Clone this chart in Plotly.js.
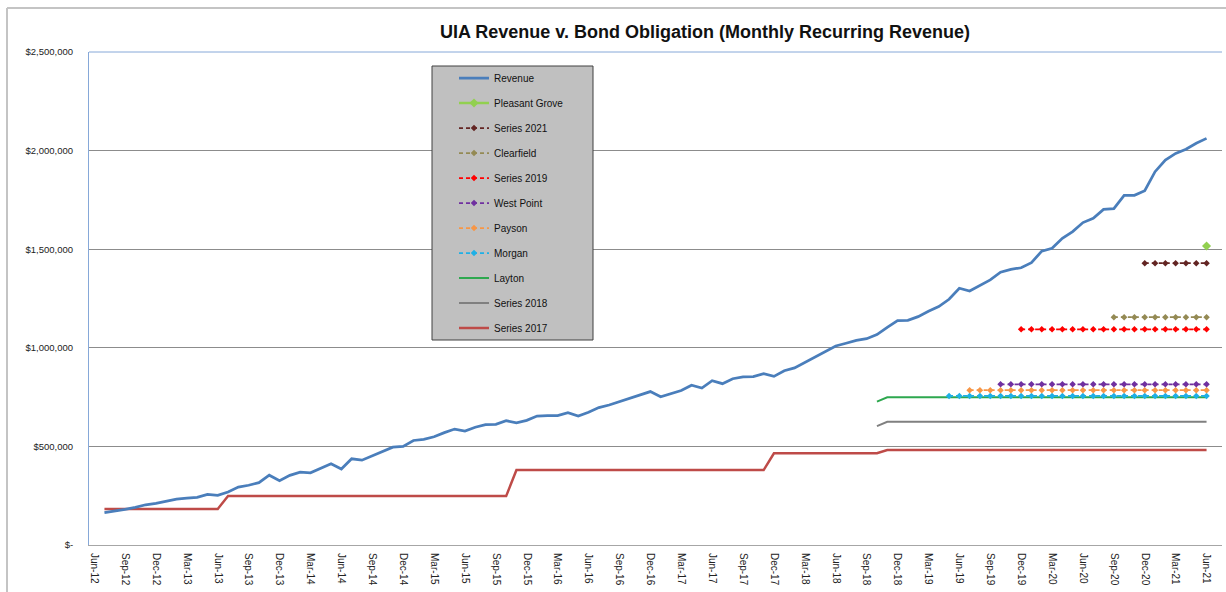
<!DOCTYPE html>
<html>
<head>
<meta charset="utf-8">
<script src="https://cdn.plot.ly/plotly-3.0.1.min.js"></script>
<style>html,body{margin:0;padding:0;background:#fff;}#chart{width:1226px;height:592px;}</style>
</head>
<body>
<div id="chart"></div>
<script>
// Month categories (Jun-12 .. Jun-21)
const months = [
"Jun-12","Jul-12","Aug-12","Sep-12","Oct-12","Nov-12","Dec-12",
"Jan-13","Feb-13","Mar-13","Apr-13","May-13","Jun-13","Jul-13","Aug-13","Sep-13","Oct-13","Nov-13","Dec-13",
"Jan-14","Feb-14","Mar-14","Apr-14","May-14","Jun-14","Jul-14","Aug-14","Sep-14","Oct-14","Nov-14","Dec-14",
"Jan-15","Feb-15","Mar-15","Apr-15","May-15","Jun-15","Jul-15","Aug-15","Sep-15","Oct-15","Nov-15","Dec-15",
"Jan-16","Feb-16","Mar-16","Apr-16","May-16","Jun-16","Jul-16","Aug-16","Sep-16","Oct-16","Nov-16","Dec-16",
"Jan-17","Feb-17","Mar-17","Apr-17","May-17","Jun-17","Jul-17","Aug-17","Sep-17","Oct-17","Nov-17","Dec-17",
"Jan-18","Feb-18","Mar-18","Apr-18","May-18","Jun-18","Jul-18","Aug-18","Sep-18","Oct-18","Nov-18","Dec-18",
"Jan-19","Feb-19","Mar-19","Apr-19","May-19","Jun-19","Jul-19","Aug-19","Sep-19","Oct-19","Nov-19","Dec-19",
"Jan-20","Feb-20","Mar-20","Apr-20","May-20","Jun-20","Jul-20","Aug-20","Sep-20","Oct-20","Nov-20","Dec-20",
"Jan-21","Feb-21","Mar-21","Apr-21","May-21","Jun-21"
];
const xTickLabels = ["Jun-12","Sep-12","Dec-12","Mar-13","Jun-13","Sep-13","Dec-13","Mar-14","Jun-14","Sep-14","Dec-14",
"Mar-15","Jun-15","Sep-15","Dec-15","Mar-16","Jun-16","Sep-16","Dec-16","Mar-17","Jun-17","Sep-17","Dec-17",
"Mar-18","Jun-18","Sep-18","Dec-18","Mar-19","Jun-19","Sep-19","Dec-19","Mar-20","Jun-20","Sep-20","Dec-20","Mar-21","Jun-21"];
const yTickValues = [0, 500000, 1000000, 1500000, 2000000, 2500000];
const yTickLabels = ["$-", "$500,000", "$1,000,000", "$1,500,000", "$2,000,000", "$2,500,000"];

// Revenue, Jul-12 .. Jun-21
const revenue = [
164000,171000,181000,191000,204000,211000,223000,233000,238000,242000,257000,252000,
269000,294000,303000,316000,354000,326000,353000,369000,366000,388000,412000,385000,
437000,430000,453000,472000,496000,500000,530000,536000,549000,570000,588000,578000,
597000,610000,612000,630000,620000,632000,654000,656000,656000,671000,654000,673000,
697000,710000,727000,747000,764000,778000,752000,767000,783000,810000,796000,833000,
818000,843000,852000,854000,869000,855000,884000,898000,925000,955000,979000,1009000,
1023000,1038000,1046000,1067000,1104000,1138000,1139000,1158000,1185000,1209000,1246000,1302000,
1288000,1318000,1344000,1383000,1398000,1406000,1432000,1490000,1505000,1555000,1589000,1635000,
1657000,1702000,1706000,1773000,1773000,1797000,1893000,1952000,1986000,2007000,2037000,2062000
];
// Series 2017, Jul-12 .. Jun-21
const series2017 = [
183000,183000,183000,183000,183000,183000,183000,183000,183000,183000,183000,183000,
248000,248000,248000,248000,248000,248000,248000,248000,248000,248000,248000,248000,
248000,248000,248000,248000,248000,248000,248000,248000,248000,248000,248000,248000,
248000,248000,248000,248000,
380000,380000,380000,380000,380000,380000,380000,380000,380000,380000,380000,380000,
380000,380000,380000,380000,380000,380000,380000,380000,380000,380000,380000,380000,380000,
465000,465000,465000,465000,465000,465000,465000,465000,465000,465000,465000,
482000,482000,482000,482000,482000,482000,482000,482000,482000,482000,482000,482000,
482000,482000,482000,482000,482000,482000,482000,482000,482000,482000,482000,482000,
482000,482000,482000,482000,482000,482000,482000,482000
];
// Oct-18 .. Jun-21
const series2018 = [603000,
625000,625000,625000,625000,625000,625000,625000,625000,625000,625000,625000,625000,625000,625000,625000,625000,
625000,625000,625000,625000,625000,625000,625000,625000,625000,625000,625000,625000,625000,625000,625000,625000];
const layton = [727000,
749000,749000,749000,749000,749000,749000,749000,749000,749000,749000,749000,749000,749000,749000,749000,749000,
749000,749000,749000,749000,749000,749000,749000,749000,749000,749000,749000,749000,749000,749000,749000,749000];
// May-19 .. Jun-21
const morgan = [756000,756000,756000,756000,756000,756000,756000,756000,756000,756000,756000,756000,756000,
756000,756000,756000,756000,756000,756000,756000,756000,756000,756000,756000,756000,756000];
// Jul-19 .. Jun-21
const payson = [785000,785000,785000,785000,785000,785000,785000,785000,785000,785000,785000,785000,
785000,785000,785000,785000,785000,785000,785000,785000,785000,785000,785000,785000];
// Oct-19 .. Jun-21
const westPoint = [815000,815000,815000,815000,815000,815000,815000,815000,815000,815000,815000,
815000,815000,815000,815000,815000,815000,815000,815000,815000,815000];
// Dec-19 .. Jun-21
const series2019 = [1094000,1094000,1094000,1094000,1094000,1094000,1094000,1094000,1094000,1094000,
1094000,1094000,1094000,1094000,1094000,1094000,1094000,1094000,1094000];
// Sep-20 .. Jun-21
const clearfield = [1155000,1155000,1155000,1155000,1155000,1155000,1155000,1155000,1155000,1155000];
// Dec-20 .. Jun-21
const series2021 = [1429000,1429000,1429000,1429000,1429000,1429000,1429000];
// Jun-21
const pleasantGrove = [1516000];

function xFor(vals){ return months.slice(months.length - vals.length); }

const FONT = "Liberation Sans, Arial, sans-serif";
function solid(name, vals, color, width, rank){
  return {type:'scatter', mode:'lines', name:name, legendgroup:name, legendrank:rank, x:xFor(vals), y:vals,
    line:{color:color, width:width}, hoverinfo:'skip'};
}
function dashed(name, vals, color, rank){
  return {type:'scatter', mode:'lines+markers', name:name, legendgroup:name, legendrank:rank, x:xFor(vals), y:vals,
    line:{color:color, width:1.75, dash:'4px,3px'}, marker:{symbol:'diamond', size:5, color:color}, hoverinfo:'skip'};
}

const traces = [
  solid('Series 2017', series2017, '#be4b48', 2.5, 11),
  solid('Series 2018', series2018, '#808080', 2, 10),
  solid('Layton', layton, '#2ea84f', 2, 9),
  dashed('Morgan', morgan, '#1eb0e6', 8),
  dashed('Payson', payson, '#f79646', 7),
  dashed('West Point', westPoint, '#7030a0', 6),
  dashed('Series 2019', series2019, '#ff0000', 5),
  dashed('Clearfield', clearfield, '#948a54', 4),
  dashed('Series 2021', series2021, '#632523', 3),
  {type:'scatter', mode:'lines+markers', name:'Pleasant Grove', legendgroup:'Pleasant Grove', legendrank:2,
    x:xFor(pleasantGrove), y:pleasantGrove,
    line:{color:'#92d050', width:2.5}, marker:{symbol:'diamond', size:7, color:'#92d050'}, hoverinfo:'skip'},
  solid('Revenue', revenue, '#4a7ebb', 2.75, 1)
];

const L = 89, R = 1222, T = 52, B = 545;
const pw = R - L, ph = B - T;
function px(x){ return (x - L)/pw; }
function py(y){ return (B - y)/ph; }

const layout = {
  width:1226, height:592,
  margin:{l:L, r:1226-R, t:T, b:592-B, pad:0},
  paper_bgcolor:'#ffffff', plot_bgcolor:'#ffffff',
  font:{family:FONT, color:'#222'},
  title:{text:'UIA Revenue v. Bond Obligation (Monthly Recurring Revenue)',
    xref:'container', yref:'container', x:705/1226, xanchor:'center', y:1-32/592, yanchor:'middle',
    font:{family:FONT, size:18, color:'#111', weight:'bold'}},
  showlegend:true,
  legend:{x:px(454), y:py(63.5), xanchor:'left', yanchor:'top', bgcolor:'rgba(0,0,0,0)', borderwidth:0,
    traceorder:'grouped', tracegroupgap:6, font:{family:FONT, size:10, color:'#111'}, itemwidth:30},
  xaxis:{type:'category', categoryorder:'array', categoryarray:months, range:[-0.5, 109.5],
    tickmode:'array', tickvals:xTickLabels, ticktext:xTickLabels, tickangle:90,
    tickfont:{family:FONT, size:10, color:'#222'}, ticks:'', ticklabelstandoff:5,
    showgrid:false, zeroline:false, showline:true, linecolor:'#a6a6a6', linewidth:1, fixedrange:true},
  yaxis:{range:[0, 2500000], tickmode:'array', tickvals:yTickValues, ticktext:yTickLabels,
    tickfont:{family:FONT, size:9.5, color:'#222'}, ticks:'', ticklabelstandoff:13,
    showgrid:true, gridcolor:'#8c8c8c', gridwidth:1, zeroline:false,
    showline:true, linecolor:'#86a8d8', linewidth:1, fixedrange:true},
  shapes:[
    {type:'line', xref:'paper', yref:'paper', x0:0, x1:1, y0:1, y1:1, line:{color:'#86a8d8', width:1}},
    {type:'line', xref:'paper', yref:'paper', x0:px(7), x1:px(1226), y0:py(8), y1:py(8), line:{color:'#c4c4c4', width:2}},
    {type:'line', xref:'paper', yref:'paper', x0:px(7), x1:px(7), y0:py(8), y1:py(600), line:{color:'#c4c4c4', width:2}},
    {type:'rect', xref:'paper', yref:'paper', layer:'above', x0:px(432), x1:px(593), y0:py(340), y1:py(66),
      fillcolor:'#c0c0c0', line:{color:'#404040', width:1}}
  ]
};

Plotly.newPlot('chart', traces, layout, {displayModeBar:false, staticPlot:true});
</script>
</body>
</html>
